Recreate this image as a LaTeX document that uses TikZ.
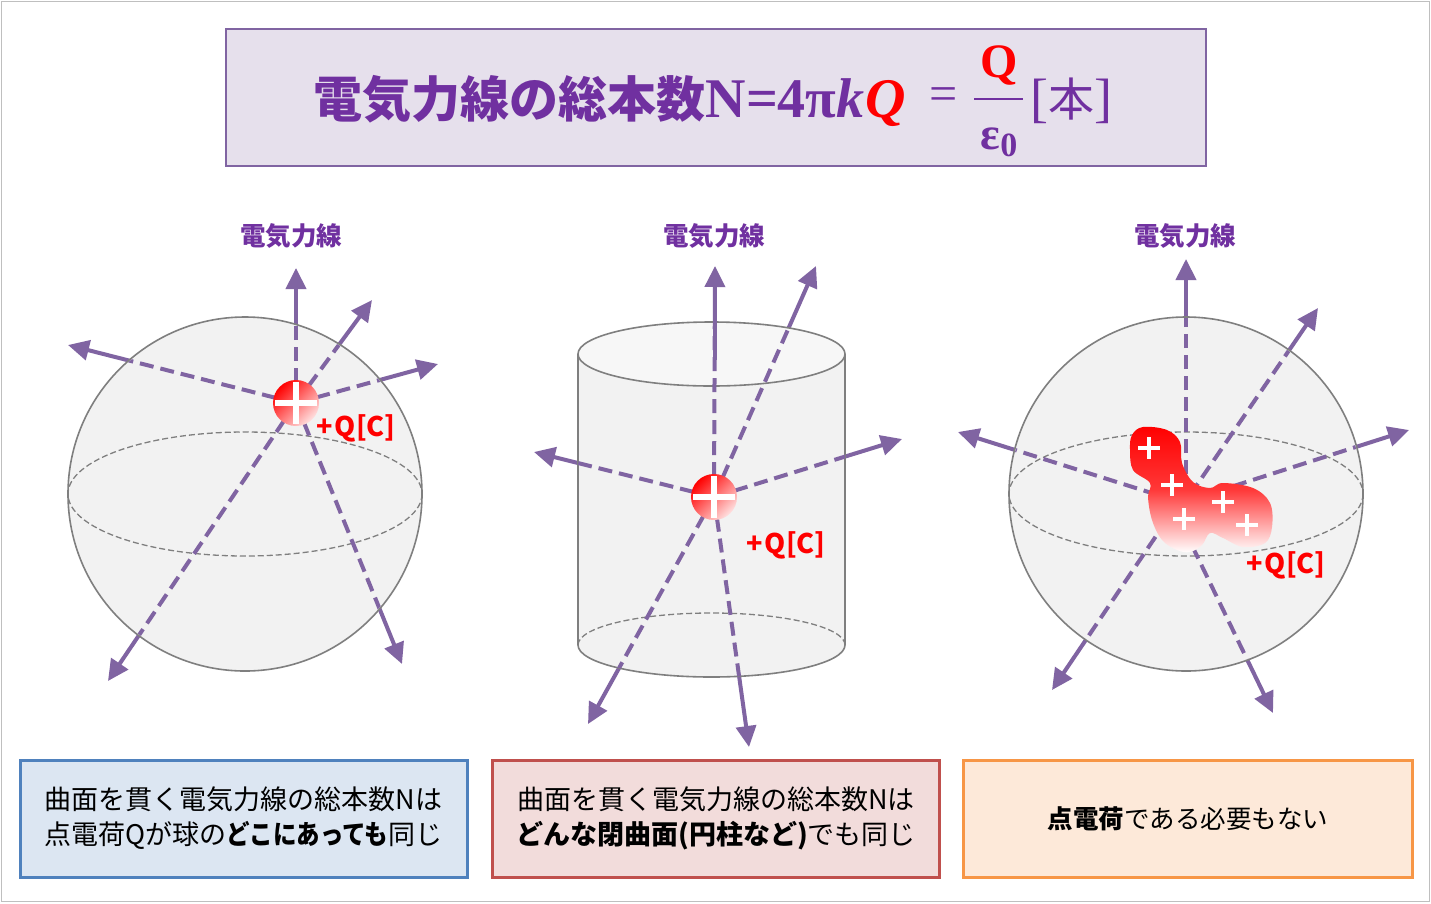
\documentclass[tikz,border=0pt]{standalone}
\usepackage{graphicx}
\usepackage{fontspec}
\setmainfont{Liberation Serif}
\newfontfamily\jp{Noto Sans CJK JP}
\newfontfamily\serif{Liberation Serif}
\usetikzlibrary{arrows.meta}
\definecolor{ttl}{HTML}{7030A0}
\definecolor{arr}{HTML}{8064A2}
\definecolor{ttlbg}{HTML}{E6E0EC}
\definecolor{sfill}{HTML}{F2F2F2}
\definecolor{tfill}{HTML}{F7F7F7}
\definecolor{sline}{HTML}{7F7F7F}
\definecolor{qred}{HTML}{FF0000}
\definecolor{bAfill}{HTML}{DCE6F2}\definecolor{bAline}{HTML}{4F81BD}
\definecolor{bBfill}{HTML}{F2DCDB}\definecolor{bBline}{HTML}{C0504D}
\definecolor{bCfill}{HTML}{FDE9D9}\definecolor{bCline}{HTML}{F79646}
\begin{document}
\begin{tikzpicture}[x=1pt,y=-1pt,
  solidarrow/.style={arr, line width=4pt, -{Triangle[length=21pt,width=20pt]}},
  dasharrow/.style={arr, line width=4pt, dash pattern=on 14pt off 7pt},
  surf/.style={fill=sfill, draw=sline, line width=1.6pt},
  equator/.style={draw=sline, line width=1.3pt, dash pattern=on 6pt off 3pt},
  flabel/.style={text=ttl, font=\jp\bfseries\fontsize{25.5}{28}\selectfont},
  qlabel/.style={text=qred, font=\jp\bfseries\fontsize{27}{30}\selectfont},
  charge/.style={circle, minimum size=46pt, inner sep=0pt, shade, top color=qred, bottom color=red!12!white, shading angle=45,
    path picture={\draw[white, line width=5.5pt]
      ([xshift=2pt]path picture bounding box.west) -- ([xshift=-2pt]path picture bounding box.east)
      ([yshift=-2pt]path picture bounding box.north) -- ([yshift=2pt]path picture bounding box.south);}},
  infobox/.style={minimum width=447pt, minimum height=117pt, line width=3pt, align=center, inner sep=0pt,
    font=\jp\fontsize{27}{35}\selectfont, text=black},
  plus/.style={white, line width=4pt}
]
\useasboundingbox (0,0) rectangle (1431,903);
\fill[white] (0,0) rectangle (1431,903);
\draw[sline!50, line width=1pt] (1,1) rectangle (1429,901);

% ---------- title ----------
\node[draw=arr, fill=ttlbg, line width=2pt, minimum width=980pt, minimum height=137pt, inner sep=0pt] (title) at (715.5,97) {};
\node[anchor=base west, inner sep=0pt, text=ttl, font=\jp\bfseries\fontsize{49}{52}\selectfont] (t1) at (313,117) {電気力線の総本数};
\node[anchor=base west, inner sep=0pt, text=ttl, font=\serif\bfseries\fontsize{56}{58}\selectfont] (t2) at (t1.base east) {N=4π\textit{k}};
\node[anchor=base west, inner sep=0pt, text=qred, font=\serif\bfseries\itshape\fontsize{56}{58}\selectfont] (t3) at (t2.base east) {Q};
\node[inner sep=0pt, text=ttl, font=\serif\fontsize{50}{52}\selectfont] (teq) at (944,99) {=};
\draw[ttl, line width=2.5pt] (974,99) -- (1023,99);
\node[anchor=base, inner sep=0pt, text=qred, font=\serif\bfseries\fontsize{48}{50}\selectfont] (tnum) at (999,77) {Q};
\node[anchor=base, inner sep=0pt, text=ttl, font=\serif\bfseries\fontsize{46}{50}\selectfont] (tden) at (999,149) {ε\raisebox{-7pt}{\fontsize{34}{36}\selectfont 0}};
\node[anchor=base west, inner sep=0pt, text=ttl, font=\serif\fontsize{54}{56}\selectfont] (tunit) at (1030,116) {[{\jp\fontsize{46}{48}\selectfont 本}]};

% ---------- left sphere ----------
\node[flabel] (L1) at (291,236) {電気力線};
\coordinate (q1c) at (296,403);
\coordinate (a1) at (296,268);
\coordinate (a2) at (372,300);
\coordinate (a3) at (438,364);
\coordinate (a4) at (68,345);
\coordinate (a5) at (108,681);
\coordinate (a6) at (402,664);
\foreach \t in {a1,a2,a3,a4,a5,a6} \draw[solidarrow] (q1c) -- (\t);
\path[surf] (245,494) circle (177);
\draw[equator] (245,494) ellipse [x radius=177, y radius=62];
\begin{scope}
  \clip (245,494) circle (176);
  \foreach \t in {a1,a2,a3,a4,a5,a6} \draw[dasharrow] (q1c) -- (\t);
\end{scope}
\node[charge] (q1) at (q1c) {};
\node[qlabel] (Q1) at (356,428) {+\kern2pt Q[C]};

% ---------- cylinder ----------
\node[flabel] (L2) at (714,236) {電気力線};
\coordinate (q2c) at (714,497);
\coordinate (b1) at (715,266);
\coordinate (b2) at (816,266);
\coordinate (b3) at (902,439);
\coordinate (b4) at (534,452);
\coordinate (b5) at (588,724);
\coordinate (b6) at (749,747);
\coordinate (b1s) at (715,360);
\foreach \t in {b1,b2,b3,b4,b5,b6} \draw[solidarrow] (q2c) -- (\t);
\path[fill=sfill] (578,354) arc[start angle=180, end angle=360, x radius=133.5, y radius=32]
  -- (845,645) arc[start angle=0, end angle=180, x radius=133.5, y radius=32] -- cycle;
\draw[draw=sline, line width=1.6pt] (578,354) -- (578,645) arc[start angle=180, end angle=0, x radius=133.5, y radius=32] -- (845,354);
\draw[equator] (578,645) arc[start angle=180, end angle=360, x radius=133.5, y radius=32];
\path[fill=tfill, draw=sline, line width=1.6pt] (711.5,354) ellipse [x radius=133.5, y radius=32];
\begin{scope}
  \clip (578,354) arc[start angle=180, end angle=360, x radius=133.5, y radius=32]
  -- (845,645) arc[start angle=0, end angle=180, x radius=133.5, y radius=32] -- cycle;
  \foreach \t in {b1,b2,b3,b4,b5,b6} \draw[dasharrow] (q2c) -- (\t);
\end{scope}
\draw[arr, line width=4pt] (b1s) -- (715,318);
\node[charge] (q2) at (q2c) {};
\node[qlabel] (Q2) at (786,545) {+\kern2pt Q[C]};

% ---------- right sphere ----------
\node[flabel] (L3) at (1185,236) {電気力線};
\coordinate (s1) at (1186,495); \coordinate (c1) at (1186,259);
\coordinate (s2) at (1190,495); \coordinate (c2) at (1318,308);
\coordinate (s3) at (1193,499); \coordinate (c3) at (1409,430);
\coordinate (s4) at (1177,501); \coordinate (c4) at (958,432);
\coordinate (s5) at (1179,502); \coordinate (c5) at (1052,690);
\coordinate (s6) at (1183,527); \coordinate (c6) at (1273,713);
\foreach \i in {1,...,6} \draw[solidarrow] (s\i) -- (c\i);
\path[surf] (1186,494) circle (177);
\draw[equator] (1186,494) ellipse [x radius=177, y radius=62];
\begin{scope}
  \clip (1186,494) circle (176);
  \foreach \i in {1,...,6} \draw[dasharrow] (s\i) -- (c\i);
\end{scope}
\shade[top color=qred, bottom color=white, middle color=red!78!white]
  plot[smooth cycle, tension=0.6] coordinates {
  (1132,435) (1143,427) (1167,430) (1180,442) (1182,463) (1193,482) (1210,488)
  (1223,483) (1253,488) (1270,503) (1272,527) (1265,543) (1243,547) (1223,538)
  (1210,533) (1202,545) (1190,552) (1177,550) (1162,540) (1152,520) (1148,497)
  (1150,483) (1133,470) (1130,450)};
\foreach \x/\y in {1149/448, 1172/485, 1184/519, 1223/502, 1247/525}
  \draw[plus] (\x-11,\y) -- (\x+11,\y) (\x,\y-11) -- (\x,\y+11);
\node[qlabel] (Q3) at (1286,565) {+\kern2pt Q[C]};

% ---------- info boxes ----------
\node[infobox, draw=bAline, fill=bAfill] (B1) at (243.5,818.5)
  {曲面を貫く電気力線の総本数Nは\\点電荷Qが球の\scalebox{0.87}[1]{\bfseries どこにあっても}同じ};
\node[infobox, draw=bBline, fill=bBfill] (B2) at (716,818.5)
  {曲面を貫く電気力線の総本数Nは\\{\bfseries どんな閉曲面(円柱など)}でも同じ};
\node[infobox, draw=bCline, fill=bCfill, minimum width=449pt, font=\jp\fontsize{25.5}{35}\selectfont] (B3) at (1188,818.5)
  {{\bfseries 点電荷}である必要もない};
\end{tikzpicture}
\end{document}
